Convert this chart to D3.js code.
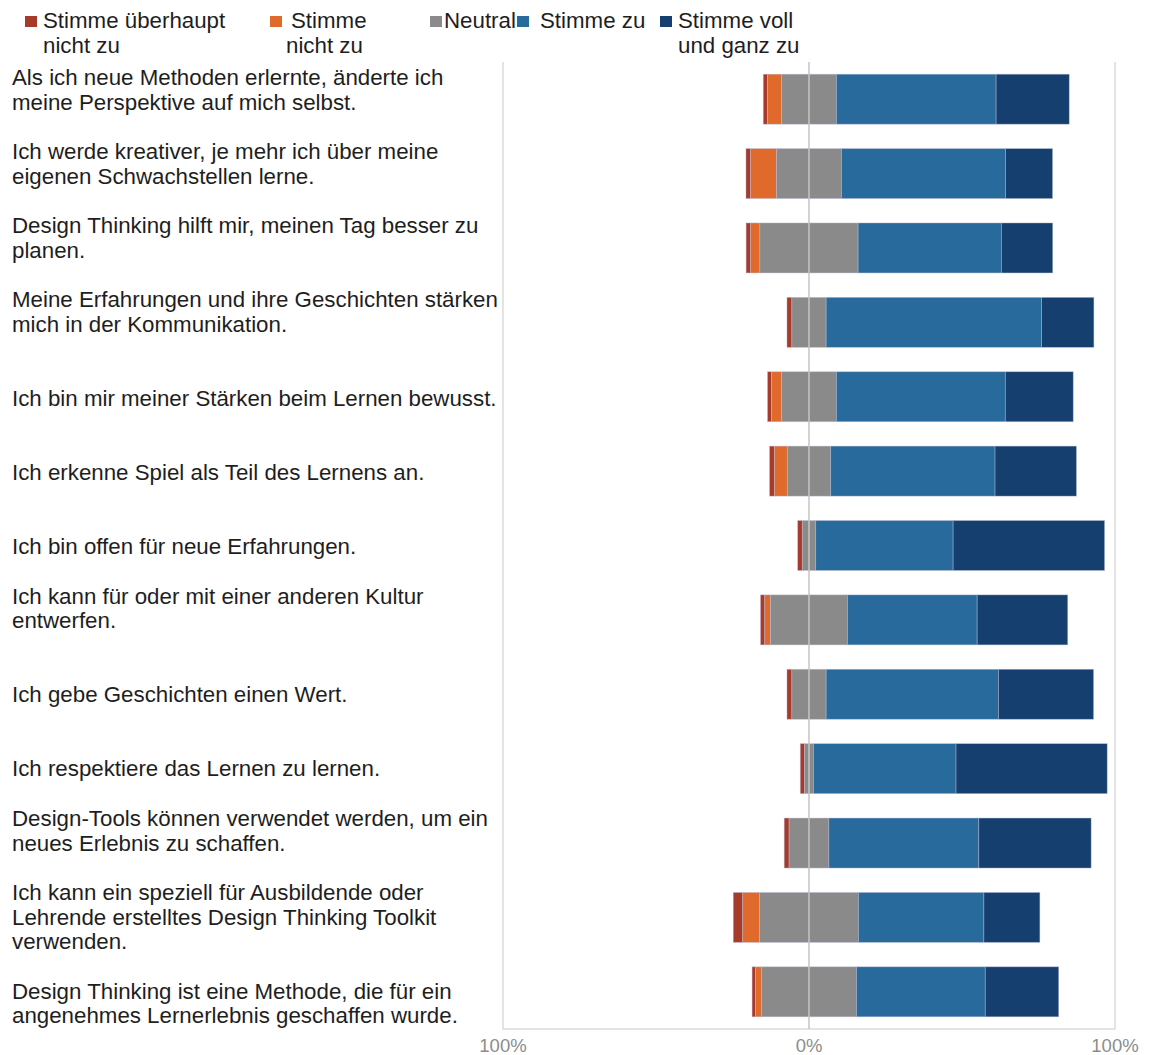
<!DOCTYPE html>
<html><head>
<meta charset="utf-8">
<title>Design Thinking Umfrage</title>
<script src="https://d3js.org/d3.v7.min.js"></script>
<style>
  body { margin: 0; background: #fff; }
  svg text { font-family: "Liberation Sans", Arial, sans-serif; }
  .label { fill: #1e1e1e; font-size: 22.3px; }
  .legend text { fill: #1e1e1e; font-size: 22.3px; }
  .tick-label { fill: #8c8c8c; font-size: 18.5px; text-anchor: middle; }
</style>
</head>
<body>
<svg id="chart" width="1150" height="1055"></svg>

<script>

// Statements (line breaks as in the original layout)
const statements = [
  "Als ich neue Methoden erlernte, änderte ich\nmeine Perspektive auf mich selbst.",
  "Ich werde kreativer, je mehr ich über meine\neigenen Schwachstellen lerne.",
  "Design Thinking hilft mir, meinen Tag besser zu\nplanen.",
  "Meine Erfahrungen und ihre Geschichten stärken\nmich in der Kommunikation.",
  "Ich bin mir meiner Stärken beim Lernen bewusst.",
  "Ich erkenne Spiel als Teil des Lernens an.",
  "Ich bin offen für neue Erfahrungen.",
  "Ich kann für oder mit einer anderen Kultur\nentwerfen.",
  "Ich gebe Geschichten einen Wert.",
  "Ich respektiere das Lernen zu lernen.",
  "Design-Tools können verwendet werden, um ein\nneues Erlebnis zu schaffen.",
  "Ich kann ein speziell für Ausbildende oder\nLehrende erstelltes Design Thinking Toolkit\nverwenden.",
  "Design Thinking ist eine Methode, die für ein\nangenehmes Lernerlebnis geschaffen wurde."
];

// answer categories, legend text
const answers = ["Stimme überhaupt\nnicht zu", "Stimme\nnicht zu", "Neutral", "Stimme zu", "Stimme voll\nund ganz zu"];

// shares in percent
const stronglyDisagree = [1.4, 1.5, 1.5, 1.6, 1.3, 1.6, 1.5, 1.4, 1.6, 1.4, 1.6, 3.1, 1.1];
const disagree         = [4.6, 8.5, 3.0, 0.0, 3.3, 4.2, 0.0, 1.9, 0.0, 0.0, 0.0, 5.5, 2.0];
const neutral          = [17.9, 21.2, 32.1, 11.2, 17.9, 14.2, 4.4, 25.1, 11.2, 2.9, 13.0, 32.3, 31.0];
const agree            = [52.2, 53.6, 46.8, 70.4, 55.2, 53.7, 44.9, 42.4, 56.3, 46.6, 49.0, 41.0, 42.1];
const stronglyAgree    = [23.9, 15.4, 16.8, 17.1, 22.2, 26.6, 49.5, 29.6, 31.1, 49.4, 36.7, 18.3, 24.0];

const tickValues = [-100, 0, 100];
const tickLabels = ["100%", "0%", "100%"];

const colors = ["#a63a2b", "#df6a2c", "#8a8a8a", "#286a9b", "#153f6e"];

// layout
const svg = d3.select("#chart");
const plotLeft = 503, plotRight = 1115, plotTop = 62, plotBottom = 1029;
const lineH = 24.7, textTop = 77;

const x = d3.scaleLinear().domain([-100, 100]).range([plotLeft, plotRight]);
const y = d3.scaleBand().domain(d3.range(statements.length))
            .range([plotTop, plotBottom]).paddingInner(0.328).paddingOuter(0.164);

// build segments: neutral is centred on 0
const series = [stronglyDisagree, disagree, neutral, agree, stronglyAgree];
const segments = [];
statements.forEach((s, i) => {
  let start = -(stronglyDisagree[i] + disagree[i] + neutral[i] / 2);
  series.forEach((vals, k) => {
    segments.push({row: i, k: k, x0: start, x1: start + vals[i]});
    start += vals[i];
  });
});

// frame (left, right, bottom)
svg.append("path")
   .attr("d", `M${plotLeft},${plotTop}V${plotBottom}H${plotRight}V${plotTop}`)
   .attr("fill", "none").attr("stroke", "#dcdcdc").attr("stroke-width", 1.5);

// bars
svg.append("g").selectAll("rect")
   .data(segments.filter(d => d.x1 > d.x0))
   .join("rect")
   .attr("x", d => x(d.x0))
   .attr("width", d => x(d.x1) - x(d.x0))
   .attr("y", d => y(d.row))
   .attr("height", y.bandwidth())
   .attr("fill", d => colors[d.k])
   .attr("stroke", "rgba(190,190,215,0.6)")
   .attr("stroke-width", 0.7);

// centre line on top of the bars
svg.append("line")
   .attr("x1", x(0)).attr("x2", x(0))
   .attr("y1", plotTop).attr("y2", plotBottom)
   .attr("stroke", "#c4c4c4").attr("stroke-width", 1.5);

// axis tick labels
svg.append("g").selectAll("text")
   .data(tickValues)
   .join("text")
   .attr("class", "tick-label")
   .attr("x", d => x(d))
   .attr("y", 1052)
   .text((d, i) => tickLabels[i]);

// statement labels, snapped to the text line grid like the original text box
const labels = svg.append("g");
statements.forEach((s, i) => {
  const lines = s.split("\n");
  const mid = y(i) + y.bandwidth() / 2;
  const ideal = (mid - (lines.length - 1) / 2 * lineH - textTop) / lineH;
  const first = textTop + Math.round(ideal - 0.02) * lineH;
  const t = labels.append("text").attr("class", "label");
  lines.forEach((ln, j) => {
    t.append("tspan").attr("x", 12).attr("y", first + j * lineH).attr("dy", "0.35em").text(ln);
  });
});

// legend
const legendBoxX = [25, 270, 430, 517, 660];
const legendTextX = [43, 291, 444, 540, 678];
const legendLine2X = [43, 286, 444, 540, 678];
const legend = svg.append("g").attr("class", "legend");
answers.forEach((a, k) => {
  legend.append("rect")
        .attr("x", legendBoxX[k]).attr("y", 16)
        .attr("width", 12).attr("height", 11)
        .attr("fill", colors[k]);
  const t = legend.append("text");
  a.split("\n").forEach((ln, j) => {
    t.append("tspan")
     .attr("x", j == 0 ? legendTextX[k] : legendLine2X[k])
     .attr("y", 20 + j * lineH).attr("dy", "0.35em").text(ln);
  });
});

</script>
</body>
</html>
